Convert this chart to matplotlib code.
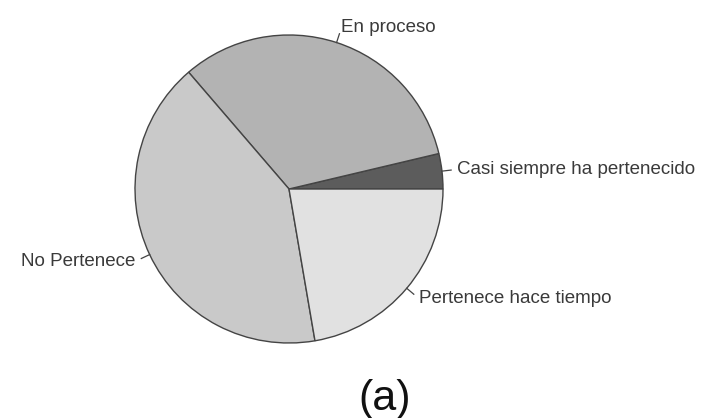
import numpy as np
import matplotlib.pyplot as plt

# datos
categorias = ['Casi siempre ha pertenecido', 'En proceso', 'No Pertenece', 'Pertenece hace tiempo']
porcentajes = [3.7, 32.6, 41.4, 22.3]
colores = ['#5c5c5c', '#b3b3b3', '#c9c9c9', '#e1e1e1']

plt.rcParams['font.family'] = ['Liberation Sans', 'DejaVu Sans']

fig = plt.figure(figsize=(7.07, 4.18), dpi=100)
ax = fig.add_axes([0, 0, 1, 1])

centro = (289, 229)
radio = 154

wedges, _ = ax.pie(porcentajes, colors=colores, startangle=0, counterclock=True,
                   center=centro, radius=radio, frame=True,
                   wedgeprops={'edgecolor': '#444444', 'linewidth': 1.0})
ax.set_xlim(0, 707)
ax.set_ylim(0, 418)
ax.set_aspect('equal')
ax.set_axis_off()

# etiquetas con pequenas lineas guia
for w, nombre in zip(wedges, categorias):
    ang = np.deg2rad((w.theta1 + w.theta2) / 2)
    c, s = np.cos(ang), np.sin(ang)
    p0 = (centro[0] + radio * c, centro[1] + radio * s)
    p1 = (centro[0] + radio * 1.06 * c, centro[1] + radio * 1.06 * s)
    pt = (centro[0] + radio * 1.1 * c, centro[1] + radio * 1.1 * s)
    ax.plot([p0[0], p1[0]], [p0[1], p1[1]], color='#444444', lw=0.9)
    ax.text(pt[0], pt[1], nombre, ha='left' if c > 0 else 'right', va='center',
            fontsize=13.5, color='#3a3a3a')

ax.text(385, 19, '(a)', ha='center', va='center', fontsize=31, color='#111111')

fig.savefig('out.png', dpi=100)
